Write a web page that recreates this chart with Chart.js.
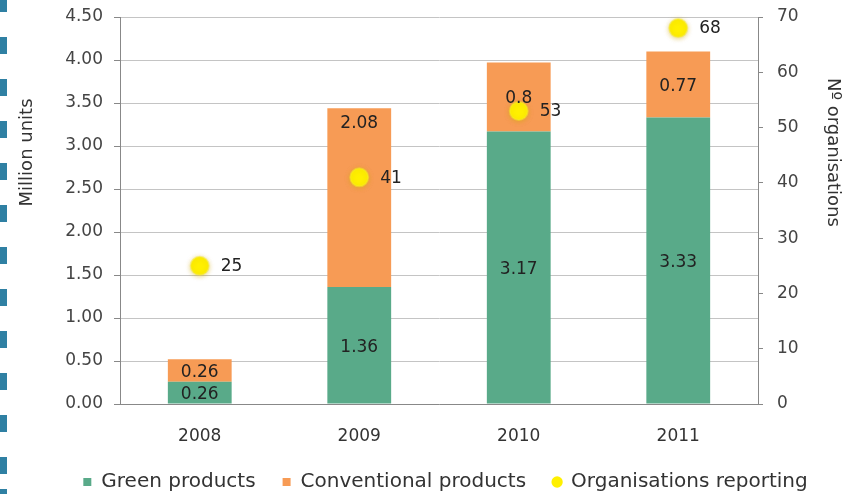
<!DOCTYPE html>
<html>
<head>
<meta charset="utf-8">
<script src="https://cdn.jsdelivr.net/npm/chart.js@4/dist/chart.umd.min.js"></script>
<style>
  html, body { margin: 0; padding: 0; background: #fff; }
  #wrap { position: relative; width: 849px; height: 494px; }
  /* dashed blue rule down the left edge */
  #edge {
    position: absolute; left: 0; top: 0; width: 7px; height: 494px;
    background: repeating-linear-gradient(to bottom, #2f80a3 0px, #2f80a3 17px, transparent 17px, transparent 42px);
    background-position: 0 -5px;
  }
  canvas { position: absolute; left: 0; top: 0; }
</style>
</head>
<body>
<div id="wrap">
  <div id="edge"></div>
  <canvas id="chart" width="849" height="494"></canvas>
</div>
<script>
const years = ['2008', '2009', '2010', '2011'];
const greenProducts = [0.26, 1.36, 3.17, 3.33];
const conventionalProducts = [0.26, 2.08, 0.8, 0.77];
const organisations = [25, 41, 53, 68];

const FONT = '"DejaVu Sans", Verdana, sans-serif';

// value labels inside the bars and beside the yellow dots;
// a tall segment whose middle sits on a dot gets its label near its top
const valueLabels = {
  id: 'valueLabels',
  afterDatasetsDraw(chart) {
    const ctx = chart.ctx;
    const dots = chart.getDatasetMeta(0).data;
    ctx.save();
    ctx.font = '17px ' + FONT;
    ctx.fillStyle = '#222';
    ctx.textBaseline = 'middle';
    chart.data.datasets.forEach((ds, i) => {
      const meta = chart.getDatasetMeta(i);
      meta.data.forEach((el, j) => {
        const v = ds.data[j];
        if (ds.type === 'bar') {
          let y = (el.y + el.base) / 2 + 2;
          const h = el.base - el.y;
          if (h > 100 && Math.abs(dots[j].y - y) < 30) y = el.y + 15;
          ctx.textAlign = 'center';
          ctx.fillText(String(v), el.x, y);
        } else {
          ctx.textAlign = 'left';
          ctx.fillText(String(v), el.x + 21, el.y + 1);
        }
      });
    });
    ctx.restore();
  }
};

// soft glow under the yellow dots
const dotGlow = {
  id: 'dotGlow',
  beforeDatasetDraw(chart, args) {
    if (chart.data.datasets[args.index].type !== 'line') return;
    const ctx = chart.ctx;
    ctx.save();
    ctx.shadowColor = 'rgba(210,170,0,0.55)';
    ctx.shadowBlur = 5;
    ctx.shadowOffsetY = 1;
  },
  afterDatasetDraw(chart, args) {
    if (chart.data.datasets[args.index].type !== 'line') return;
    chart.ctx.restore();
  }
};

// rotated axis titles, sitting a little above the middle of the plot
const axisTitles = {
  id: 'axisTitles',
  afterDraw(chart) {
    const ctx = chart.ctx;
    const a = chart.chartArea;
    const cy = a.top + 0.35 * (a.bottom - a.top);
    const put = (text, x, angle) => {
      ctx.save();
      ctx.font = '18px ' + FONT;
      ctx.fillStyle = '#333';
      ctx.textAlign = 'center';
      ctx.textBaseline = 'middle';
      ctx.translate(x, cy);
      ctx.rotate(angle);
      ctx.fillText(text, 0, 0);
      ctx.restore();
    };
    put('Million units', a.left - 93, -Math.PI / 2);
    put('Nº organisations', a.right + 75, Math.PI / 2);
  }
};

new Chart(document.getElementById('chart'), {
  data: {
    labels: years,
    datasets: [
      {
        type: 'line',
        label: 'Organisations reporting',
        data: organisations,
        yAxisID: 'y1',
        showLine: false,
        clip: false,
        pointRadius: 9,
        pointHoverRadius: 9,
        pointBackgroundColor: '#fff000',
        pointBorderColor: 'rgba(248,236,40,0.5)',
        pointBorderWidth: 2,
        order: 0
      },
      {
        type: 'bar',
        label: 'Green products',
        data: greenProducts,
        backgroundColor: '#59aa89',
        stack: 's',
        barPercentage: 0.5,
        categoryPercentage: 0.8,
        order: 1
      },
      {
        type: 'bar',
        label: 'Conventional products',
        data: conventionalProducts,
        backgroundColor: '#f79b55',
        stack: 's',
        barPercentage: 0.5,
        categoryPercentage: 0.8,
        order: 1
      }
    ]
  },
  options: {
    responsive: false,
    animation: false,
    layout: { autoPadding: false, padding: { left: 42, right: 0, top: 0, bottom: 0 } },
    plugins: {
      tooltip: { enabled: false },
      legend: {
        position: 'bottom',
        maxHeight: 49,
        labels: {
          font: { family: FONT, size: 20 },
          color: '#333',
          usePointStyle: true,
          boxWidth: 8,
          boxHeight: 8,
          padding: 27,
          sort: (a, b) => {
            const rank = { 'Green products': 0, 'Conventional products': 1, 'Organisations reporting': 2 };
            return rank[a.text] - rank[b.text];
          },
          generateLabels(chart) {
            return chart.data.datasets.map((ds, i) => ({
              text: ds.label,
              fillStyle: ds.type === 'bar' ? ds.backgroundColor : '#fff000',
              strokeStyle: ds.type === 'bar' ? ds.backgroundColor : '#fff000',
              lineWidth: 0,
              pointStyle: ds.type === 'bar' ? 'rect' : 'circle',
              fontColor: '#333',
              datasetIndex: i
            }));
          }
        }
      }
    },
    scales: {
      x: {
        stacked: true,
        grid: { display: false, drawTicks: false },
        border: { color: '#888' },
        ticks: { font: { family: FONT, size: 17, lineHeight: 1 }, color: '#333', padding: 24 },
        afterFit: s => { s.height = 41; }
      },
      y: {
        stacked: true,
        position: 'left',
        min: 0,
        max: 4.5,
        ticks: {
          stepSize: 0.5,
          font: { family: FONT, size: 17 },
          color: '#444',
          padding: 11,
          callback: v => v.toFixed(2)
        },
        grid: { color: '#c4c4c4', tickLength: 6, tickColor: '#888' },
        border: { color: '#888' },
        afterFit: s => { s.width = 78; s.paddingTop = 17; }
      },
      y1: {
        position: 'right',
        min: 0,
        max: 70,
        ticks: {
          stepSize: 10,
          font: { family: FONT, size: 17 },
          color: '#444',
          padding: 14
        },
        grid: { drawOnChartArea: false, tickLength: 5, tickColor: '#888' },
        border: { color: '#888' },
        afterFit: s => { s.width = 91; s.paddingTop = 17; }
      }
    }
  },
  plugins: [valueLabels, dotGlow, axisTitles]
});
</script>
</body>
</html>
